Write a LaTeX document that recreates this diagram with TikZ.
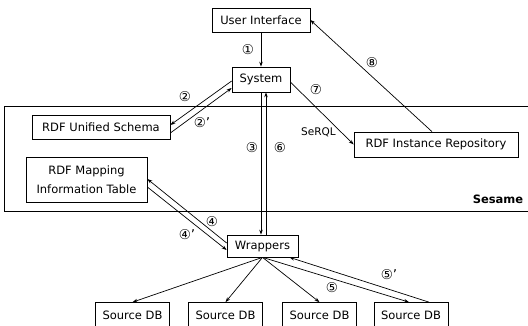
\documentclass[tikz,border=0pt]{standalone}
\usepackage{fontspec}
\setmainfont{DejaVu Sans}
\usetikzlibrary{positioning,calc,arrows.meta}

\begin{document}
\begin{tikzpicture}[
        x=1pt, y=-1pt,
        box/.style={draw,line width=0.7pt,inner sep=0pt,minimum height=24pt,font=\fontsize{11.5}{19}\selectfont},
        flow/.style={line width=0.7pt,-{Stealth[length=5pt,width=3.5pt]}},
        num/.style={inner sep=0pt,font=\fontsize{13.5}{14}\selectfont}
    ]
    \useasboundingbox (0,0) rectangle (528,325);

    % Sesame area, open on the right
    \draw[line width=0.7pt] (528,106) -- (4,106) -- (4,211) -- (528,211);
    \node[font=\bfseries\fontsize{11.5}{13}\selectfont] (sesame) at (498,199) {Sesame};

    % Boxes
    \node[box,minimum width=98pt] (ui) at (261,20) {User Interface};
    \node[box,minimum width=58pt,minimum height=25pt] (sys) at (261,79.5) {System};
    \node[box,minimum width=138pt] (schema) at (101,127) {RDF Unified Schema};
    \node[box,minimum width=164pt,minimum height=25pt] (repo) at (436,144.5) {RDF Instance Repository};
    \node[box,minimum width=121pt,minimum height=45pt,align=center] (map) at (86.5,180) {RDF Mapping\\Information Table};
    \node[box,minimum width=71pt,minimum height=22pt] (wr) at (262.5,246) {Wrappers};

    % Source databases
    \foreach \i/\x in {1/132.5,2/225.5,3/319.5,4/411}
        \node[box,minimum width=74pt,minimum height=25pt] (db\i) at (\x,315) {Source DB};

    % 1: user interface to system
    \draw[flow] (ui.south) -- (sys.north);
    \node[num] (n1) at (248,50) {①};

    % 2 and 2': system and unified schema
    \draw[flow] ([yshift=-1.5pt]sys.west) -- ([yshift=2pt]schema.east);
    \draw[flow] ([yshift=-6pt]schema.east) -- ([yshift=-8.5pt]sys.west);
    \node[num] (n2) at (185,97) {②};
    \node[num] (n2b) at (202,123) {②'};

    % 3 and 6: system and wrappers
    \draw[flow] (sys.south) -- (sys.south |- wr.north);
    \draw[flow] ($(sys.south |- wr.north)+(5,0)$) -- ($(sys.south)+(5,0)$);
    \node[num] (n3) at (252,148) {③};
    \node[num] (n6) at (280,148) {⑥};

    % 4 and 4': wrappers and mapping table
    \draw[flow] ([yshift=3pt]wr.west) -- ([yshift=1pt]map.east);
    \draw[flow] ([yshift=-7pt]map.east) -- ([yshift=-4pt]wr.west);
    \node[num] (n4) at (212,222) {④};
    \node[num] (n4b) at (187,235) {④'};

    % 5 and 5': wrappers and source databases
    \foreach \i in {1,2,3}
        \draw[flow] (wr.south) -- (db\i.north);
    \draw[flow] (wr.south) -- ([xshift=-2pt]db4.north);
    \draw[flow] ([xshift=18pt]db4.north) -- ([xshift=27pt]wr.south);
    \node[num] (n5) at (332,288) {⑤};
    \node[num] (n5b) at (389,275) {⑤'};

    % 7: query to the instance repository
    \draw[flow] ([yshift=-2.5pt]sys.east) -- (repo.west);
    \node[num] (n7) at (316,90) {⑦};
    \node[font=\fontsize{10.5}{12}\selectfont] (serql) at (318.5,132) {SeRQL};

    % 8: results back to the user interface
    \draw[flow] ([xshift=-4pt]repo.north) -- (ui.east);
    \node[num] (n8) at (372,63) {⑧};

\end{tikzpicture}
\end{document}
